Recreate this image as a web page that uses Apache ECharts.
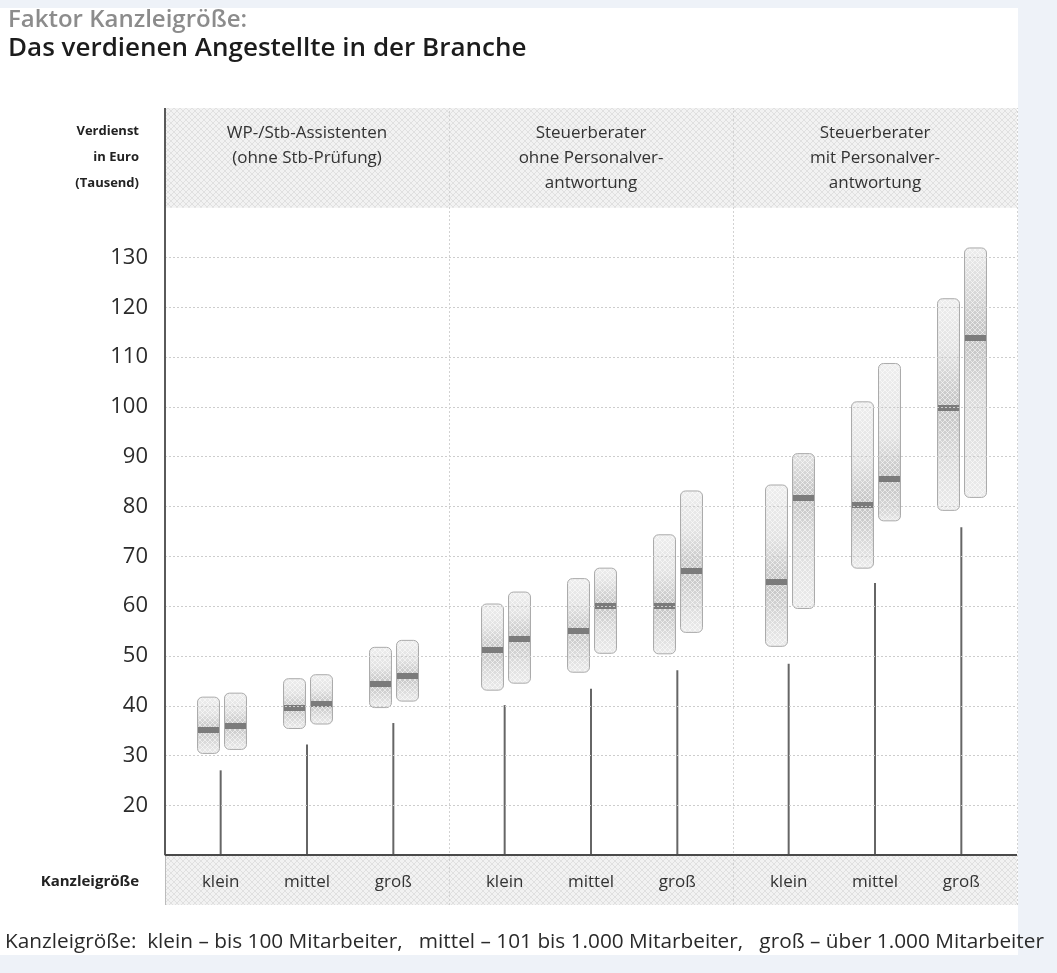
<!DOCTYPE html>
<html>
<head>
<meta charset="utf-8">
<script src="https://cdn.jsdelivr.net/npm/echarts@6/dist/echarts.min.js"></script>
<style>
html,body{margin:0;padding:0;background:#eef2f8;}
#chart{width:1057px;height:973px;}
</style>
</head>
<body>
<div id="chart"></div>
<script>
// ---------- data ----------
const groupLabels = ['WP-/Stb-Assistenten\n(ohne Stb-Prüfung)', 'Steuerberater\nohne Personalver-\nantwortung', 'Steuerberater\nmit Personalver-\nantwortung'];
const sizes = ['klein', 'mittel', 'groß'];
const yTicks = [20, 30, 40, 50, 60, 70, 80, 90, 100, 110, 120, 130];
// left bar of each pair (per group: klein, mittel, groß)
const leftLow  = [[30.4, 35.4, 39.6], [43.1, 46.7, 50.4], [51.9, 67.6, 79.2]];
const leftMed  = [[35.2, 39.6, 44.4], [51.1, 54.9, 60.1], [64.8, 80.3, 99.8]];
const leftHigh = [[41.7, 45.4, 51.7], [60.4, 65.5, 74.3], [84.3, 101.0, 121.7]];
// right bar of each pair
const rightLow  = [[31.2, 36.3, 40.9], [44.5, 50.5, 54.7], [59.5, 77.1, 81.8]];
const rightMed  = [[36.0, 40.4, 45.9], [53.4, 60.0, 67.1], [81.7, 85.5, 113.9]];
const rightHigh = [[42.5, 46.2, 53.1], [62.8, 67.6, 83.1], [90.6, 108.7, 131.9]];
// thin vertical line under each pair
const lineTop = [[27.0, 32.2, 36.5], [40.1, 43.4, 47.1], [48.4, 64.6, 75.8]];
const footnote = 'Kanzleigröße:  klein – bis 100 Mitarbeiter,   mittel – 101 bis 1.000 Mitarbeiter,   groß – über 1.000 Mitarbeiter';

// ---------- helpers ----------
function makePattern(bg, fg, n) {
  const c = document.createElement('canvas');
  c.width = n; c.height = n;
  const ctx = c.getContext('2d');
  ctx.fillStyle = bg; ctx.fillRect(0, 0, n, n);
  ctx.strokeStyle = fg; ctx.lineWidth = 1;
  ctx.beginPath();
  ctx.moveTo(0, 0); ctx.lineTo(n, n);
  ctx.moveTo(n, 0); ctx.lineTo(0, n);
  ctx.stroke();
  return c;
}
const bandFill = { image: makePattern('#f2f2f2', '#e0e0e0', 6), repeat: 'repeat' };
const barTexture = { image: makePattern('rgba(255,255,255,0)', 'rgba(255,255,255,0.55)', 5), repeat: 'repeat' };

const FONT = '"Open Sans", "Noto Sans", sans-serif';
const chart = echarts.init(document.getElementById('chart'), null, { renderer: 'canvas' });

const PLOT_L = 165, GROUP_W = 284;
const grids = [{ left: PLOT_L, right: 40, top: 108, bottom: 68 }];
const xAxes = [{ type: 'value', gridIndex: 0, min: 0, max: 3, show: false }];
const yAxes = [{
  type: 'value', gridIndex: 0, min: 0, max: 160, interval: 10,
  axisLine: { show: false }, axisTick: { show: false }, splitLine: { show: false },
  axisLabel: {
    margin: 17, fontSize: 22, color: '#2b2b2b', fontFamily: FONT,
    formatter: v => (yTicks.indexOf(v) >= 0 ? String(v) : '')
  }
}];

for (let g = 0; g < 3; g++) {
  grids.push({ left: PLOT_L + g * GROUP_W + 12.5, width: 259, top: 108, bottom: 118 });
  xAxes.push({
    type: 'category', gridIndex: g + 1, data: sizes, z: 10,
    axisLine: { show: false }, axisTick: { show: false }, splitLine: { show: false },
    axisLabel: { margin: 19, fontSize: 17, color: '#333', fontFamily: FONT }
  });
  yAxes.push({ type: 'value', gridIndex: g + 1, min: 10, max: 160, show: false, splitLine: { show: false } });
}

// frame elements (bands, grid lines, dividers, axis lines)
const areaData = [];
for (let i = 0; i < 3; i++) {
  areaData.push([
    { xAxis: i, yAxis: 140, itemStyle: { color: bandFill },
      label: { show: true, position: 'insideTop', distance: 13, formatter: groupLabels[i],
               fontSize: 17, lineHeight: 25, color: '#333', fontFamily: FONT, align: 'center' } },
    { xAxis: i + 1, yAxis: 160 }
  ]);
  areaData.push([
    { xAxis: i, yAxis: 0, itemStyle: { color: bandFill }, label: { show: false } },
    { xAxis: i + 1, yAxis: 10 }
  ]);
}
const lineData = [];
yTicks.forEach(v => lineData.push([
  { coord: [0, v], lineStyle: { color: '#cdcdcd', type: [2, 2], width: 1 } },
  { coord: [3, v] }
]));
[1, 2, 3].forEach(x => lineData.push([
  { coord: [x, 0], lineStyle: { color: '#d2d2d2', type: [2, 2], width: 1 } },
  { coord: [x, 160] }
]));
lineData.push([{ coord: [0, 0], lineStyle: { color: '#bbbbbb', type: 'solid', width: 1 } }, { coord: [0, 10] }]);
lineData.push([{ coord: [0, 10], lineStyle: { color: '#5a5a5a', type: 'solid', width: 2 } }, { coord: [0, 160] }]);
lineData.push([{ coord: [0, 10], lineStyle: { color: '#4a4a4a', type: 'solid', width: 2 } }, { coord: [3, 10] }]);

const series = [{
  type: 'line', xAxisIndex: 0, yAxisIndex: 0, data: [[0, 0]], symbol: 'none', silent: true,
  lineStyle: { opacity: 0 }, z: 1,
  markArea: { silent: true, data: areaData },
  markLine: { silent: true, symbol: ['none', 'none'], label: { show: false }, data: lineData, animation: false }
}];

function barRenderer(offset) {
  return function (params, api) {
    const x = api.value(0), lo = api.value(1), md = api.value(2), hi = api.value(3);
    const pTop = api.coord([x, hi]);
    const pBot = api.coord([x, lo]);
    const pMed = api.coord([x, md]);
    const w = 22;
    const left = Math.round(pTop[0] + offset) + 0.5;
    const h = pBot[1] - pTop[1];
    const mf = (pMed[1] - pTop[1]) / h;
    const a = Math.max(0.01, mf - 0.28), b = Math.min(0.99, mf + 0.22);
    const grad = new echarts.graphic.LinearGradient(0, 0, 0, 1, [
      { offset: 0, color: '#eeeeee' },
      { offset: a, color: '#e3e3e3' },
      { offset: mf, color: '#c3c3c3' },
      { offset: b, color: '#dadada' },
      { offset: 1, color: '#ececec' }
    ]);
    return {
      type: 'group',
      children: [
        { type: 'rect', shape: { x: left, y: pTop[1], width: w, height: h, r: 5 },
          style: { fill: grad, stroke: '#ababab', lineWidth: 1 } },
        { type: 'rect', shape: { x: left + 1, y: pTop[1] + 1, width: w - 2, height: h - 2, r: 4 },
          style: { fill: barTexture } },
        { type: 'rect', shape: { x: left + 0.5, y: Math.round(pMed[1] - 3), width: w - 1, height: 6 },
          style: { fill: '#7b7b7b' } }
      ]
    };
  };
}
function lineRenderer(params, api) {
  const x = api.value(0);
  const p0 = api.coord([x, 10]);
  const p1 = api.coord([x, api.value(1)]);
  return { type: 'line', shape: { x1: p0[0], y1: p0[1], x2: p1[0], y2: p1[1] },
           style: { stroke: '#666666', lineWidth: 2 } };
}

for (let g = 0; g < 3; g++) {
  series.push({
    type: 'custom', xAxisIndex: g + 1, yAxisIndex: g + 1, z: 3,
    renderItem: lineRenderer,
    data: sizes.map((s, k) => [k, lineTop[g][k]]),
    encode: { x: 0, y: 1 }
  });
  series.push({
    type: 'custom', xAxisIndex: g + 1, yAxisIndex: g + 1, z: 4,
    renderItem: barRenderer(-24),
    data: sizes.map((s, k) => [k, leftLow[g][k], leftMed[g][k], leftHigh[g][k]]),
    encode: { x: 0, y: [1, 2, 3] }
  });
  series.push({
    type: 'custom', xAxisIndex: g + 1, yAxisIndex: g + 1, z: 4,
    renderItem: barRenderer(3),
    data: sizes.map((s, k) => [k, rightLow[g][k], rightMed[g][k], rightHigh[g][k]]),
    encode: { x: 0, y: [1, 2, 3] }
  });
}

chart.setOption({
  backgroundColor: '#eef2f8',
  animation: false,
  textStyle: { fontFamily: FONT },
  grid: grids,
  xAxis: xAxes,
  yAxis: yAxes,
  series: series,
  graphic: [
    { type: 'rect', z: -10, shape: { x: 0, y: 8, width: 1018, height: 947 }, style: { fill: '#ffffff' }, silent: true },
    { type: 'text', left: 8, top: 8, style: { text: 'Faktor Kanzleigröße:', fontSize: 24, fontWeight: 600, fill: '#8c8c8c', fontFamily: FONT } },
    { type: 'text', left: 8, top: 36, style: { text: 'Das verdienen Angestellte in der Branche', fontSize: 26, fontWeight: 600, fill: '#1c1c1c', fontFamily: FONT } },
    { type: 'text', x: 139, y: 157, style: { text: 'Verdienst\nin Euro\n(Tausend)', fontSize: 13, fontWeight: 'bold', lineHeight: 26, align: 'right', verticalAlign: 'middle', fill: '#222', fontFamily: FONT } },
    { type: 'text', x: 139, y: 882, style: { text: 'Kanzleigröße', fontSize: 15, fontWeight: 'bold', align: 'right', verticalAlign: 'middle', fill: '#222', fontFamily: FONT } },
    { type: 'text', x: 5, y: 942, style: { text: footnote, fontSize: 20.8, align: 'left', verticalAlign: 'middle', fill: '#2a2a2a', fontFamily: FONT } }
  ]
});
</script>
</body>
</html>
